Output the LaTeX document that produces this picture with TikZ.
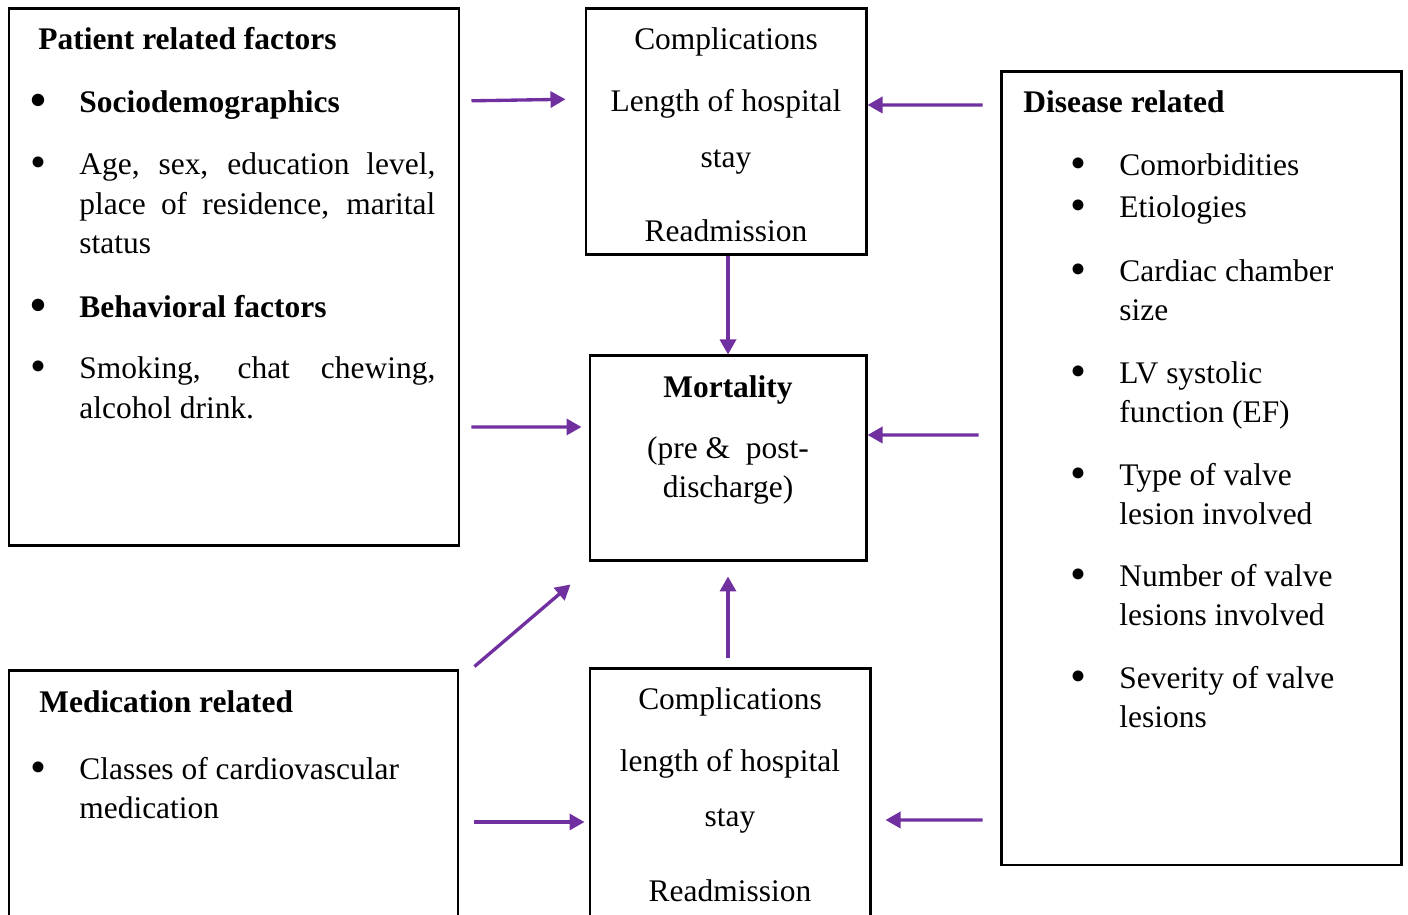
\documentclass[tikz,border=0pt]{standalone}
\usepackage{fontspec}
\setmainfont{Liberation Serif}
\usepackage{graphicx}
\usepackage{xcolor}
\definecolor{linkpurple}{HTML}{7030A0}
\usepackage{tikz}
\usetikzlibrary{arrows.meta,positioning,calc}
\newcommand{\bodyfont}{\fontsize{17.9}{22.4}\selectfont}
\newcommand{\bul}{\llap{\raisebox{-0.08em}{\scalebox{1.45}{\textbullet}}\hspace{0.66cm}}}

\begin{document}
\begin{tikzpicture}[
      box/.style={draw, line width=1.7pt, inner sep=0pt},
      txt/.style={font=\bodyfont, inner sep=0pt, anchor=base west, align=left},
      ctr/.style={font=\bodyfont, inner sep=0pt, anchor=base, align=center},
      arr/.style={-{Triangle[length=0.3cm,width=0.32cm]}, line width=1.9pt, draw=linkpurple, fill=linkpurple}
    ]
    \useasboundingbox (0,0) rectangle (28.16,18.30);
    \clip (0,0) rectangle (28.16,18.30);
    \node[box, minimum width=9.0cm, minimum height=10.74cm] (pat) at (4.68,12.75) {};
    \node[box, minimum width=5.6cm, minimum height=4.92cm] (comp1) at (14.52,15.66) {};
    \node[box, minimum width=5.52cm, minimum height=4.10cm] (mort) at (14.56,9.13) {};
    \node[box, minimum width=5.6cm, minimum height=5.92cm] (comp2) at (14.60,1.96) {};
    \node[box, minimum width=8.98cm, minimum height=5.88cm] (med) at (4.67,1.94) {};
    \node[box, minimum width=8.0cm, minimum height=15.86cm] (dis) at (24.02,8.93) {};
    \node[txt, font=\bodyfont\bfseries] (pathead) at (0.76,17.30) {Patient related factors};
    \node[txt, font=\bodyfont\bfseries] (soc) at (1.58,16.04) {\bul Sociodemographics};
    \node[txt, text width=7.12cm, align=justify] (age) at (1.58,14.80) {\bul Age, sex, education level,\linebreak place of residence, marital\linebreak status};
    \node[txt, font=\bodyfont\bfseries] (beh) at (1.58,11.94) {\bul Behavioral factors};
    \node[txt, text width=7.12cm, align=justify] (smk) at (1.58,10.72) {\bul Smoking, chat chewing,\linebreak alcohol drink.};
    \node[ctr] (c1txt) at (14.52,13.46) {Complications\\[0.45cm]Length of hospital\\[0.33cm]stay\\[0.71cm]Readmission};
    \node[ctr] (morttxt) at (14.56,8.34) {\textbf{Mortality}\\[0.43cm](pre \&\ \ post-\\discharge)};
    \node[ctr] (c2txt) at (14.60,0.26) {Complications\\[0.45cm]length of hospital\\[0.31cm]stay\\[0.73cm]Readmission};
    \node[txt, font=\bodyfont\bfseries] (medhead) at (0.78,4.04) {Medication related};
    \node[txt] (cls) at (1.58,1.92) {\bul Classes of cardiovascular\\medication};
    \node[txt, font=\bodyfont\bfseries] (dishead) at (20.46,16.04) {Disease related};
    \node[txt] (como) at (22.38,14.78) {\bul Comorbidities};
    \node[txt] (etio) at (22.38,13.94) {\bul Etiologies};
    \node[txt] (cham) at (22.38,11.88) {\bul Cardiac chamber\\size};
    \node[txt] (lvef) at (22.38,9.84) {\bul LV systolic\\function (EF)};
    \node[txt] (vtype) at (22.38,7.80) {\bul Type of valve\\lesion involved};
    \node[txt] (vnum) at (22.38,5.78) {\bul Number of valve\\lesions involved};
    \node[txt] (vsev) at (22.38,3.74) {\bul Severity of valve\\lesions};
    \draw[arr, shorten <=0.22cm, shorten >=0.38cm] ([yshift=3.53cm]pat.east) -- ([yshift=0.66cm]comp1.west);
    \draw[arr, shorten <=0.34cm] ([yshift=7.27cm]dis.west) -- ([yshift=0.54cm]comp1.east);
    \draw[arr] (mort.north |- comp1.south) -- (mort.north);
    \draw[arr, shorten <=0.22cm, shorten >=0.14cm] ([yshift=-2.99cm]pat.east) -- ([yshift=0.63cm]mort.west);
    \draw[arr, shorten <=0.42cm] ([yshift=0.67cm]dis.west) -- ([yshift=0.47cm]mort.east);
    \draw[arr] ([xshift=0.3cm,yshift=0.06cm]med.north east) -- ([xshift=-0.36cm,yshift=-0.44cm]mort.south west);
    \draw[arr, shorten <=0.18cm, shorten >=0.28cm] (mort.south |- comp2.north) -- (mort.south);
    \draw[arr, shorten <=0.3cm, shorten >=0.08cm] ([yshift=-0.08cm]med.east) -- ([yshift=-0.10cm]comp2.west);
    \draw[arr, shorten <=0.34cm, shorten >=0.28cm] ([yshift=-7.03cm]dis.west) -- ([yshift=-0.06cm]comp2.east);
  \end{tikzpicture}
\end{document}
